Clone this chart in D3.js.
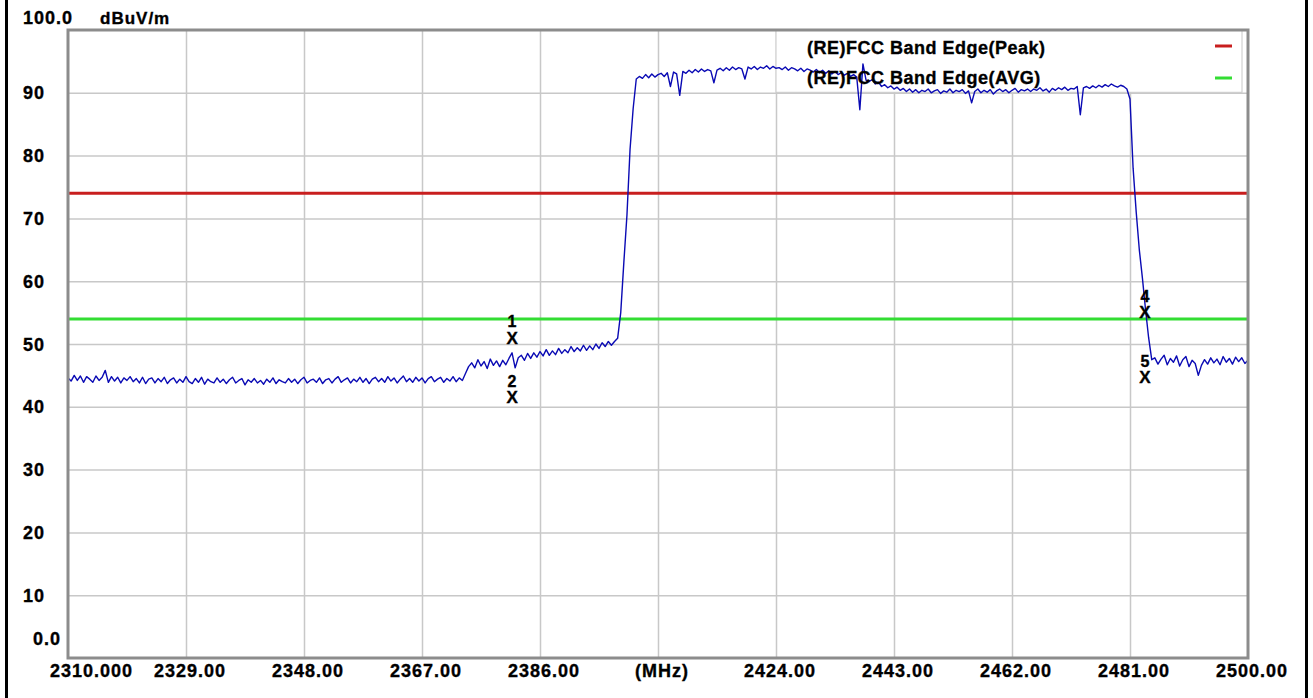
<!DOCTYPE html>
<html>
<head>
<meta charset="utf-8">
<script src="https://cdn.jsdelivr.net/npm/d3@7"></script>
<style>
  html, body { margin: 0; padding: 0; background: #fff; }
  svg text { font-family: "Liberation Sans", Arial, sans-serif; font-weight: bold; fill: #000; stroke: #000; stroke-width: 0.35px; }
</style>
</head>
<body>
<div id="app"></div>
<script>
// sweep: 2310 MHz to 2500 MHz, one reading every 0.5 MHz
const startMHz = 2310;
const stepMHz = 0.5;
const levels = [
  44.6, 44.1, 45.0, 44.2, 44.9, 43.9, 44.8, 44.4, 43.9, 44.9,
  44.2, 44.7, 45.8, 43.9, 44.8, 44.1, 44.7, 43.8, 44.6, 44.2,
  44.8, 44.0, 44.5, 43.8, 44.7, 43.7, 44.4, 44.6, 43.8, 44.5,
  44.0, 44.7, 43.7, 44.3, 44.6, 43.8, 44.4, 43.9, 44.8, 44.0,
  43.7, 44.5, 43.9, 44.7, 43.6, 44.4, 44.0, 43.8, 44.6, 43.9,
  44.4, 43.7, 44.3, 44.7, 43.8, 44.2, 44.5, 43.5, 44.3, 43.9,
  44.5, 43.8, 44.2, 43.6, 44.4, 43.9, 44.6, 43.7, 44.3, 44.0,
  43.8, 44.5, 43.9, 44.4, 43.7, 44.3, 44.7, 43.8, 44.2, 44.4,
  43.9, 44.6, 43.7, 44.3, 44.5, 43.8, 44.4, 44.8, 43.9, 44.3,
  44.6, 43.8, 44.4, 44.0, 44.7, 43.9, 44.5, 43.7, 44.4, 44.7,
  44.0, 44.5, 43.9, 44.8, 44.1, 44.6, 43.8, 44.4, 44.9, 44.0,
  44.5, 43.9, 44.7, 44.1, 44.6, 43.8, 44.5, 44.8, 44.0, 44.4,
  44.7, 43.9, 44.5, 44.1, 44.8, 44.0, 44.6, 44.2, 45.3, 46.4,
  47.0, 46.2, 47.5, 46.5, 47.2, 46.1, 47.6, 46.6, 47.3, 46.4,
  47.4, 46.7, 47.7, 48.6, 46.2, 47.8, 48.2, 47.4, 48.5, 47.7,
  48.6, 47.9, 48.8, 48.1, 49.1, 48.2, 48.9, 48.3, 49.3, 48.5,
  49.1, 48.6, 49.6, 48.8, 49.4, 48.9, 49.8, 49.0, 49.7, 49.1,
  50.0, 49.3, 50.2, 49.6, 50.4, 49.8, 50.4, 50.9, 55.0, 63.0,
  70.5, 81.0, 87.5, 92.2, 92.6, 92.3, 92.9, 92.4, 93.0, 92.5,
  92.9, 93.1, 92.6, 93.2, 91.0, 93.3, 93.0, 89.6, 93.4, 93.1,
  93.6, 93.2, 93.7, 93.3, 93.8, 93.4, 93.7, 93.5, 91.6, 93.6,
  93.9, 93.5, 94.0, 93.6, 94.1, 93.7, 94.0, 93.8, 92.2, 94.1,
  93.8, 94.2, 93.7, 94.1, 93.9, 94.3, 93.8, 94.2, 93.9, 94.0,
  93.7, 94.1, 93.6, 94.0, 93.8, 93.5, 93.9, 93.4, 93.8, 93.6,
  93.3, 93.7, 93.2, 93.6, 93.1, 93.5, 93.0, 93.4, 92.9, 93.2,
  92.8, 93.1, 92.6, 92.9, 92.5, 87.3, 94.6, 92.0, 91.8, 92.1,
  91.4, 91.7, 91.0, 91.3, 90.8, 91.1, 90.6, 90.9, 90.4, 90.7,
  90.2, 90.6, 90.1, 90.5, 90.0, 90.4, 90.2, 90.6, 90.0, 90.3,
  90.5, 89.9, 90.3, 90.1, 90.6, 90.0, 90.4, 90.2, 90.5, 89.9,
  90.3, 88.4, 90.2, 90.6, 90.0, 90.4, 90.1, 90.5, 89.8, 90.3,
  90.6, 90.2, 90.5, 90.0, 90.4, 90.7, 90.1, 90.5, 90.3, 90.6,
  90.2, 90.6, 90.4, 90.8, 90.3, 90.6, 90.1, 90.7, 90.4, 90.8,
  90.5, 90.9, 90.4, 90.7, 90.6, 91.0, 86.5, 90.8, 91.0, 90.7,
  91.1, 90.8, 91.2, 90.9, 91.3, 91.0, 91.4, 91.1, 90.9, 91.2,
  91.0, 90.6, 89.0, 78.0, 71.0, 65.0, 60.5, 55.5, 51.0, 47.5,
  47.8, 46.8, 47.6, 48.2, 46.7, 47.7, 47.1, 48.1, 46.5, 47.5,
  48.0, 46.4, 47.4, 46.9, 45.0, 46.6, 47.5, 46.8, 47.8, 47.0,
  47.6, 46.7, 48.0, 47.1, 47.7, 46.8, 47.9, 47.2, 47.8, 46.9,
  47.4
];

const limitNames = ["(RE)FCC Band Edge(Peak)", "(RE)FCC Band Edge(AVG)"];
const limitValues = [74, 54];
const limitColors = ["#c81e1e", "#33dd33"];

const markerIds = ["1", "2", "4", "5"];
const markerFreqs = [2381.5, 2381.5, 2483.4, 2483.4];
const markerValues = [51.1, 41.6, 55.1, 44.8];

const xTicks = [2310, 2329, 2348, 2367, 2386, 2405, 2424, 2443, 2462, 2481, 2500];
const xLabels = ["2310.000", "2329.00", "2348.00", "2367.00", "2386.00", "(MHz)",
                 "2424.00", "2443.00", "2462.00", "2481.00", "2500.00"];
const yTicks = [100, 90, 80, 70, 60, 50, 40, 30, 20, 10, 0];
const yLabels = ["100.0", "90", "80", "70", "60", "50", "40", "30", "20", "10", "0.0"];
const yUnit = "dBuV/m";

const margin = {top: 30, left: 68};
const width = 1180;
const height = 628;

const svg = d3.select("#app")
    .append("svg")
        .attr("width", 1313)
        .attr("height", 698);

// outer black border of the report picture
svg.append("rect")
    .attr("x", 6.5).attr("y", -10)
    .attr("width", 1300).attr("height", 720)
    .attr("fill", "none")
    .attr("stroke", "#000")
    .attr("stroke-width", 3);

const g = svg.append("g")
    .attr("transform", "translate(" + margin.left + "," + margin.top + ")");

const x = d3.scaleLinear().domain([2310, 2500]).range([0, width]);
const y = d3.scaleLinear().domain([0, 100]).range([height, 0]);

// gridlines
g.append("g")
    .classed("x-grid", true)
    .attr("transform", "translate(0," + height + ")")
    .style("color", "#c8c8c8")
    .call(d3.axisBottom(x).tickValues(xTicks.slice(1, -1)).tickSize(-height).tickFormat(""))
    .call(a => a.select(".domain").remove())
    .selectAll("line").attr("stroke-width", 1.5);

g.append("g")
    .classed("y-grid", true)
    .style("color", "#c8c8c8")
    .call(d3.axisLeft(y).tickValues(yTicks.slice(1, -1)).tickSize(-width).tickFormat(""))
    .call(a => a.select(".domain").remove())
    .selectAll("line").attr("stroke-width", 1.5);

// legend box (covers the grid, trace goes over it)
const legendLeft = x(2424);
g.append("rect")
    .attr("x", legendLeft).attr("y", 0)
    .attr("width", width - 6 - legendLeft).attr("height", y(90) - 0.5)
    .attr("fill", "#fff")
    .attr("stroke", "#c8c8c8")
    .attr("stroke-width", 1);

// limit lines
g.selectAll(".limit")
    .data(limitValues)
    .join("line")
        .attr("class", "limit")
        .attr("x1", 0).attr("x2", width)
        .attr("y1", d => y(d)).attr("y2", d => y(d))
        .attr("stroke", (d, i) => limitColors[i])
        .attr("stroke-width", 3);

// trace
g.append("path")
    .datum(levels)
    .attr("fill", "none")
    .attr("stroke", "#0a0ab4")
    .attr("stroke-width", 1.4)
    .attr("stroke-linejoin", "round")
    .attr("d", d3.line()
        .x((d, i) => x(startMHz + i * stepMHz))
        .y(d => y(d)));

// legend texts and swatches
g.selectAll(".legend-text")
    .data(limitNames)
    .join("text")
        .attr("class", "legend-text")
        .attr("x", legendLeft + 31)
        .attr("y", (d, i) => 23.5 + i * 30)
        .style("font-size", "18px")
        .style("letter-spacing", "0.5px")
        .text(d => d);

g.selectAll(".legend-swatch")
    .data(limitColors)
    .join("line")
        .attr("class", "legend-swatch")
        .attr("x1", width - 33).attr("x2", width - 16)
        .attr("y1", (d, i) => 16 + i * 32).attr("y2", (d, i) => 16 + i * 32)
        .attr("stroke", d => d)
        .attr("stroke-width", 3);

// plot frame
g.append("rect")
    .attr("x", 0).attr("y", 0)
    .attr("width", width).attr("height", height)
    .attr("fill", "none")
    .attr("stroke", "#8c8c8c")
    .attr("stroke-width", 3);

// markers
const markers = g.selectAll(".marker")
    .data(markerIds)
    .join("g")
        .attr("class", "marker")
        .attr("transform", (d, i) => "translate(" + x(markerFreqs[i]) + "," + y(markerValues[i]) + ")");
markers.append("text")
    .attr("text-anchor", "middle")
    .attr("y", 6.5)
    .style("font-size", "17px")
    .text("X");
markers.append("text")
    .attr("text-anchor", "middle")
    .attr("y", -10)
    .style("font-size", "16px")
    .text(d => d);

// y labels
svg.selectAll(".y-label")
    .data(yTicks)
    .join("text")
        .attr("class", "y-label")
        .attr("x", d => d === 0 ? 33 : 23)
        .attr("y", d => margin.top + y(d) + 6.5 + (d === 100 ? -13 : d === 0 ? -20 : 0))
        .style("font-size", "18px")
        .style("letter-spacing", "1px")
        .text((d, i) => yLabels[i]);

svg.append("text")
    .attr("x", 100)
    .attr("y", margin.top - 13 + 6.5)
    .style("font-size", "17px")
    .style("letter-spacing", "1px")
    .text(yUnit);

// x labels
svg.selectAll(".x-label")
    .data(xTicks)
    .join("text")
        .attr("class", "x-label")
        .attr("text-anchor", (d, i) => i === 0 ? "start" : "middle")
        .attr("x", (d, i) => margin.left + x(d) + (i === 0 ? -18 : 4))
        .attr("y", margin.top + height + 18.5)
        .style("font-size", "18px")
        .style("letter-spacing", "1px")
        .text((d, i) => xLabels[i]);
</script>
</body>
</html>
